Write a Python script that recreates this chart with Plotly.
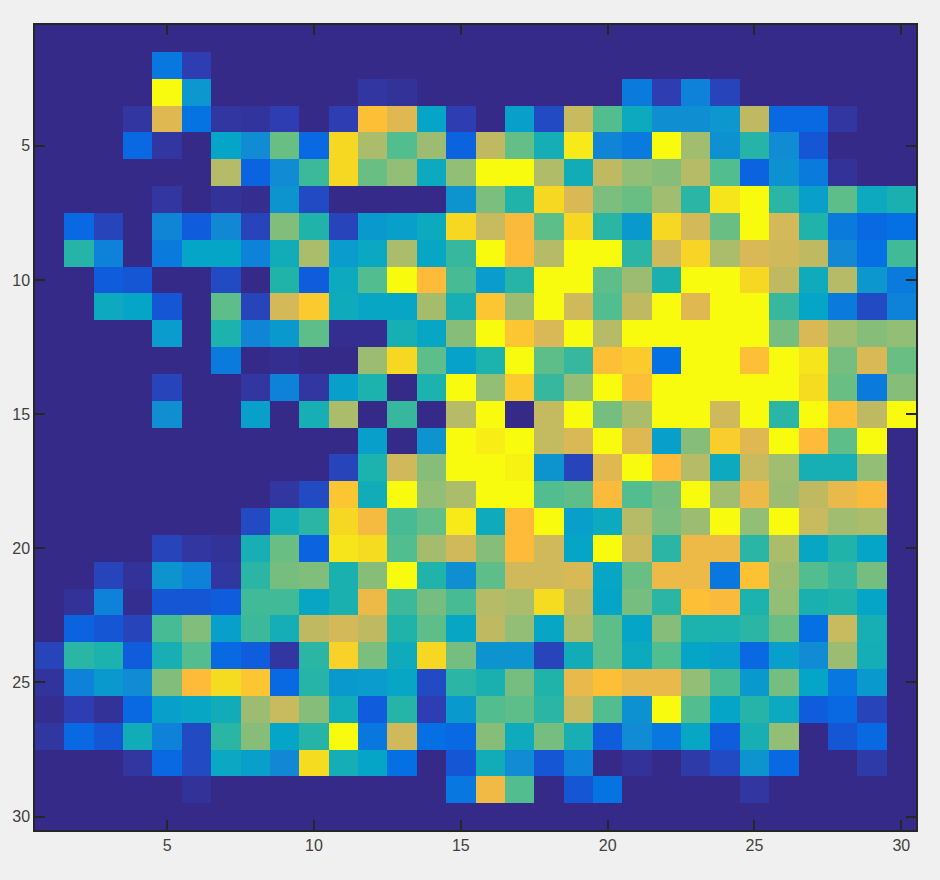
import plotly.graph_objects as go

row_numbers = list(range(1, 31))
col_numbers = list(range(1, 31))
tick_values = [5, 10, 15, 20, 25, 30]

r01 = [0]*30
r02 = [0,0,0,0,15,5,0,0,0,0,0,0,0,0,0,0,0,0,0,0,0,0,0,0,0,0,0,0,0,0]
r03 = [0,0,0,0,100,25,0,0,0,0,0,3,2,0,0,0,0,0,0,0,16,5,18,6,0,0,0,0,0,0]
r04 = [0,0,0,3,77,14,3,2.5,5,0,5,85,77,30,5,0,28,7,71,49,33,22,22,25,69,12,12,3,0,0]
r05 = [0,0,0,12,3,0,30,21,53,12,92,65,49,62,11,69,52,36,96,19,16,100,63,23,41,21,9,0,0,0]
r06 = [0,0,0,0,0,0,67,11,21,45,92,53,60,33,60,100,100,66,35,69,60,58,67,49,11,23,16,2,0,0]
r07 = [0,0,0,0,3,0,2,1,24,7,0,0,0,0,24,56,40,92,75,56,53,63,42,95,100,42,28,51,33,38]
r08 = [0,12,6,0,19,10,20,6,57,40,6,26,28,33,92,71,83,51,92,42,26,92,74,53,100,74,40,16,12,13]
r09 = [0,41,18,0,16,30,30,18,35,65,27,32,65,31,44,100,84,67,100,100,42,73,91,65,75,73,69,20,13,46]
r10 = [0,0,10,9,0,0,7,0,40,10,33,49,100,84,47,27,41,100,100,51,62,38,100,100,92,69,34,67,25,16]
r11 = [0,0,33,30,9,0,51,6,74,88,34,31,31,64,37,87,62,100,73,49,69,100,77,100,100,44,30,16,7,18]
r12 = [0,0,0,0,27,0,39,19,26,51,1,1,37,31,58,100,87,75,100,67,100,100,100,100,100,55,75,63,58,60]
r13 = [0,0,0,0,0,0,16,0,1,0,0,62,92,51,29,39,100,51,44,85,88,13,100,100,85,100,95,55,75,53]
r14 = [0,0,0,0,6,0,0,3,18,3,28,39,0,39,100,60,88,44,60,100,85,100,100,100,100,100,93,53,16,58]
r15 = [0,0,0,0,22,0,0,28,0,37,65,0,44,0,67,100,0,70,100,55,65,100,100,73,100,42,100,85,69,100]
r16 = [0,0,0,0,0,0,0,0,0,0,0,28,0,24,100,97,100,70,75,100,77,28,58,89,77,100,84,51,100,0]
r17 = [0,0,0,0,0,0,0,0,0,0,6,39,73,58,100,100,98,24,6,77,100,84,67,33,71,63,37,37,60,0]
r18 = [0,0,0,0,0,0,0,0,3,7,87,35,100,60,65,100,100,49,51,83,49,55,100,63,80,62,69,79,83,0]
r19 = [0,0,0,0,0,0,0,7,35,42,92,82,47,52,96,34,84,100,28,33,67,56,62,100,60,100,71,63,65,0]
r20 = [0,0,0,0,6,3,2,37,53,11,95,93,49,64,73,58,84,73,30,100,72,42,80,80,42,65,31,40,30,0]
r21 = [0,0,6,2,24,18,3,42,55,57,38,58,100,40,22,51,73,73,75,31,53,80,80,15,86,62,49,44,55,0]
r22 = [0,2,18,1,9,9,10,46,46,31,38,80,45,55,47,67,65,93,69,30,55,42,85,83,39,60,38,40,30,0]
r23 = [0,11,9,6,47,57,28,45,36,69,74,69,40,51,31,69,60,31,65,51,30,58,39,39,42,53,13,71,37,0]
r24 = [6,42,39,10,37,49,12,10,3,42,90,56,34,92,55,24,24,6,35,51,33,49,30,28,12,28,21,62,36,0]
r25 = [2.5,18,26,21,57,84,93,87,12,41,26,27,31,7,42,38,55,40,79,85,79,79,60,47,26,55,30,15,26,0]
r26 = [1,5,2,12,28,31,35,62,71,58,35,10,41,5,26,49,51,42,71,49,23,100,49,30,41,33,10,12,6,0]
r27 = [3,12,9,35,18,7,42,58,30,41,100,15,73,13,12,58,34,55,37,10,21,15,31,10,37,60,0,9,12,0]
r28 = [0,0,0,3,12,7,32,28,20,93,36,30,13,0,9,35,21,9,18,0,2,0,4,7,24,12,0,0,4,0]
r29 = [0,0,0,0,0,2,0,0,0,0,0,0,0,0,15,81,49,0,9,14,0,0,0,0,3,0,0,0,0,0]
r30 = [0]*30

grid = [r01, r02, r03, r04, r05, r06, r07, r08, r09, r10,
        r11, r12, r13, r14, r15, r16, r17, r18, r19, r20,
        r21, r22, r23, r24, r25, r26, r27, r28, r29, r30]

parula = [
    [0.00, "#352A87"], [0.05, "#2E3EB2"], [0.10, "#0F5CDD"], [0.13, "#0470E4"],
    [0.20, "#1288D4"], [0.30, "#05A5C8"], [0.40, "#1FB3AA"], [0.50, "#58BE8B"],
    [0.60, "#92BE75"], [0.70, "#C4BA60"], [0.77, "#E0B852"], [0.84, "#FEBB39"],
    [0.92, "#F6D823"], [1.00, "#F9FB0E"],
]

fig = go.Figure(go.Heatmap(
    z=grid, x=col_numbers, y=row_numbers, zmin=0, zmax=100,
    colorscale=parula, showscale=False, zsmooth=False, hoverinfo="skip",
))

axis_style = dict(
    tickmode="array", tickvals=tick_values, ticks="inside", ticklen=10, tickwidth=1.5,
    tickcolor="#262626", showline=True, linecolor="#262626", linewidth=1.5,
    mirror="ticks", showgrid=False, zeroline=False, layer="above traces",
    tickfont=dict(family="Liberation Sans", size=16, color="#404040"),
)
fig.update_xaxes(range=[0.5, 30.5], **axis_style)
fig.update_yaxes(range=[30.5, 0.5], **axis_style)
fig.update_layout(
    width=940, height=880, autosize=False,
    margin=dict(l=35, r=24, t=25, b=50),
    paper_bgcolor="#F0F0F0", plot_bgcolor="#352A87",
)
page_reset = "document.body.style.margin='0';document.body.style.background='#F0F0F0';document.body.style.overflow='hidden';"
fig.write_html("out.html", post_script=page_reset, config={"displayModeBar": False})
